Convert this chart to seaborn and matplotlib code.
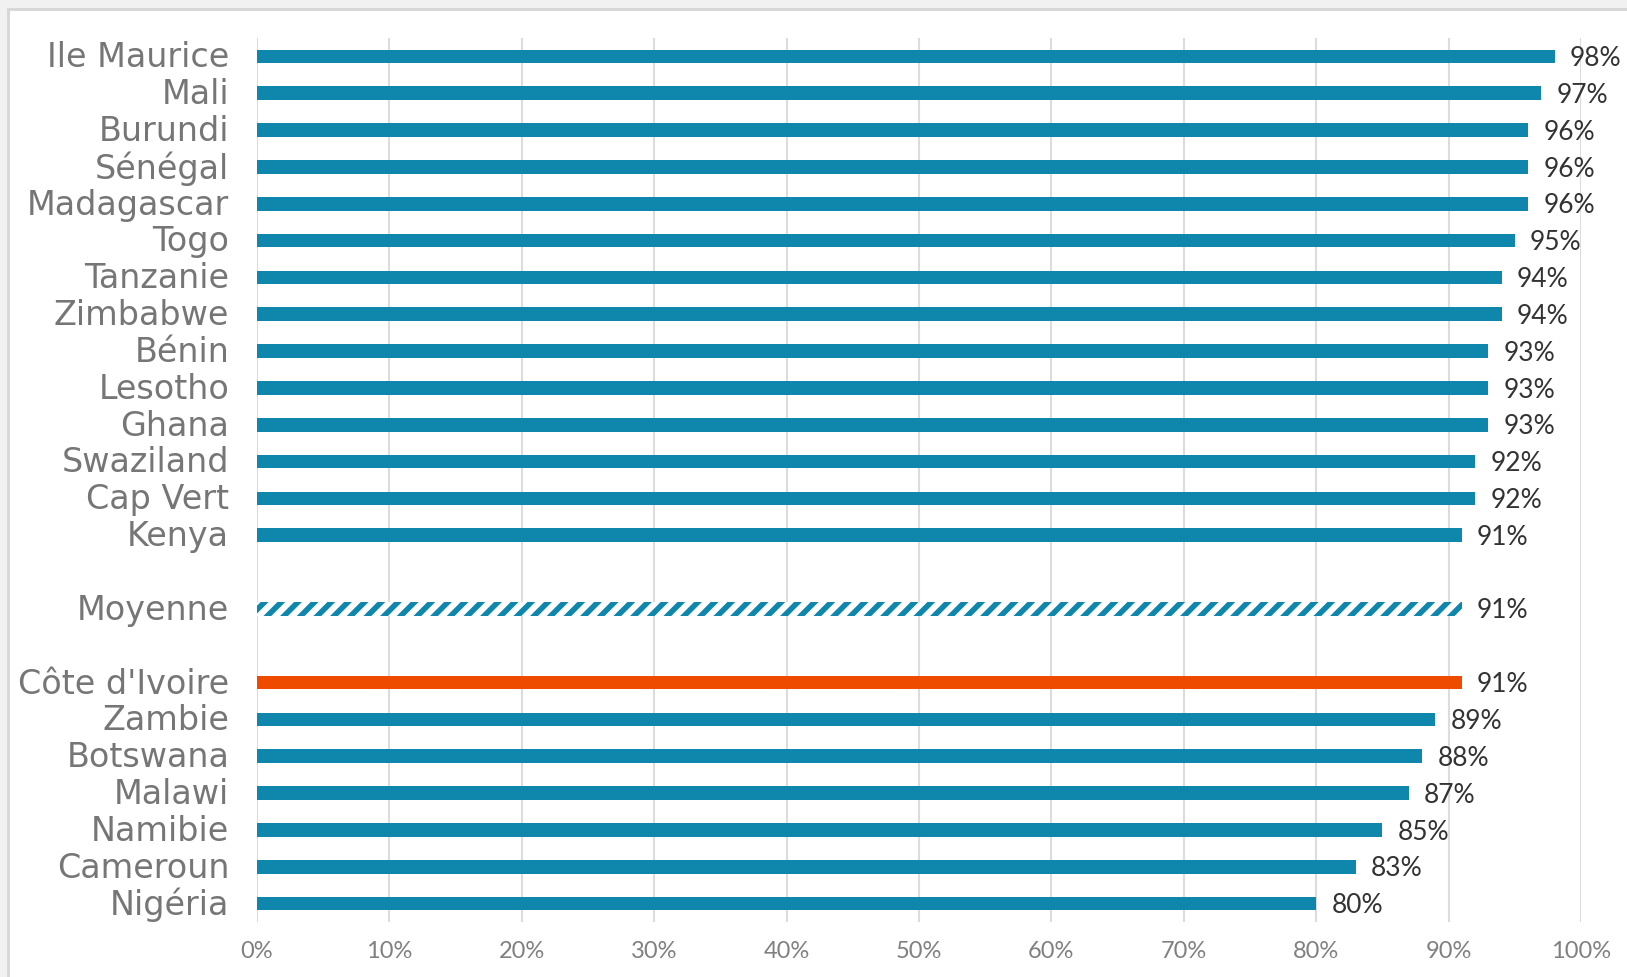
import matplotlib
matplotlib.use("Agg")
import matplotlib.pyplot as plt
from matplotlib.patches import Rectangle
from matplotlib.transforms import ScaledTranslation
import seaborn as sns
import pandas as pd

countries = ["Ile Maurice", "Mali", "Burundi", "Sénégal", "Madagascar", "Togo",
             "Tanzanie", "Zimbabwe", "Bénin", "Lesotho", "Ghana", "Swaziland",
             "Cap Vert", "Kenya", "Moyenne", "Côte d'Ivoire", "Zambie", "Botswana",
             "Malawi", "Namibie", "Cameroun", "Nigéria"]
values = [98, 97, 96, 96, 96, 95, 94, 94, 93, 93, 93, 92, 92, 91,
          91, 91, 89, 88, 87, 85, 83, 80]
xticks = [0, 10, 20, 30, 40, 50, 60, 70, 80, 90, 100]

GAP1, GAP2 = " ", "  "
order = countries[:14] + [GAP1, "Moyenne", GAP2] + countries[15:]

BLUE = "#0F86AC"
ORANGE = "#EE4A00"
palette = {c: BLUE for c in countries}
palette["Côte d'Ivoire"] = ORANGE

df = pd.DataFrame({"pays": countries, "val": values})

sns.set_theme(style="white")
plt.rcParams["font.family"] = ["Lato", "DejaVu Sans"]
plt.rcParams["hatch.linewidth"] = 4.0

fig = plt.figure(figsize=(16.27, 9.77), dpi=100, facecolor="#f1f1f1")
panel = Rectangle((8 / 1627, -0.1), 1.2, 1 - 9 / 977 + 0.1,
                  transform=fig.transFigure, facecolor="white",
                  edgecolor="#d6d6d6", linewidth=2, zorder=-10)
fig.add_artist(panel)
ax = fig.add_axes([257 / 1627, 1 - 922 / 977, (1581 - 257) / 1627, (922 - 38) / 977])
ax.set_zorder(5)
ax.set_facecolor("none")

sns.barplot(data=df, x="val", y="pays", hue="pays", order=order, hue_order=countries,
            palette=palette, orient="h", width=0.37, legend=False, ax=ax,
            errorbar=None, saturation=1, linewidth=0)

mpos = order.index("Moyenne")
for p in ax.patches:
    yc = p.get_y() + p.get_height() / 2
    if abs(yc - mpos) < 0.01:
        p.set_facecolor("white")
        p.set_edgecolor(BLUE)
        p.set_hatch("//")
        p.set_linewidth(0)

for c, v in zip(countries, values):
    ax.annotate(f"{v}%", xy=(v, order.index(c)), xytext=(11, -1.5),
                textcoords="offset points", va="center", ha="left",
                fontsize=19, color="#333333")

ax.set_xlim(0, 100)
ax.set_ylim(len(order) - 0.5, -0.5)
ax.set_xticks(xticks)
ax.set_xticklabels([f"{t}%" for t in xticks], fontsize=17, color="#808080")
ax.tick_params(axis="x", length=0, pad=14)
ax.tick_params(axis="y", length=0, pad=20)
shift = ScaledTranslation(0, 1.5 / 72, fig.dpi_scale_trans)
for lbl in ax.get_yticklabels():
    lbl.set_fontfamily(["DejaVu Sans"])
    lbl.set_fontsize(24)
    lbl.set_color("#767676")
    lbl.set_verticalalignment("center_baseline")
    lbl.set_transform(lbl.get_transform() + shift)
ax.set_xlabel("")
ax.set_ylabel("")
ax.grid(axis="x", color="#dcdcdc", linewidth=1.5)
ax.set_axisbelow(True)
for s in ax.spines.values():
    s.set_visible(False)

fig.savefig("out.png", dpi=100, facecolor=fig.get_facecolor())
